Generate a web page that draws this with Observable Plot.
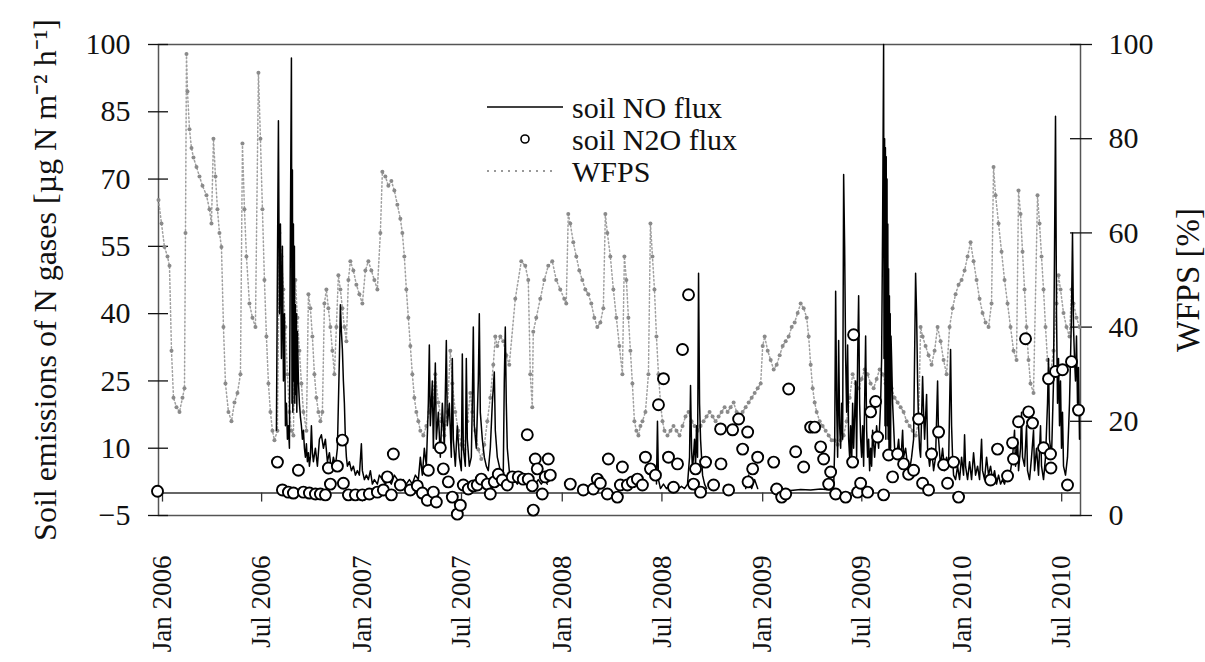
<!DOCTYPE html>
<html>
<head>
<meta charset="utf-8">
<script src="https://cdn.jsdelivr.net/npm/d3@7"></script>
<script src="https://cdn.jsdelivr.net/npm/@observablehq/plot@0.6"></script>
<style>
  body { margin: 0; background: #fff; }
  svg, svg text { font-family: "Liberation Serif", "Times New Roman", serif !important; }
</style>
</head>
<body>
<div id="chart"></div>
<script>
// ---------- DATA (dates as decimal years) ----------
const seriesNames = ["soil NO flux", "soil N2O flux", "WFPS"];
const leftTitle = "Soil emissions of N gases [\u00b5g N m\u207b\u00b2 h\u207b\u00b9]";
const rightTitle = "WFPS [%]";
const leftTicks = [-5, 10, 25, 40, 55, 70, 85, 100];
const rightTicks = [0, 20, 40, 60, 80, 100];
const xTickDates = ["2006-01-01","2006-07-01","2007-01-01","2007-07-01","2008-01-01","2008-07-01","2009-01-01","2009-07-01","2010-01-01","2010-07-01"];

// WFPS [%]
const wfps = [
[2005.980,67],[2005.995,62],[2006.010,57],[2006.025,55],[2006.035,53],[2006.045,35],[2006.055,25],[2006.070,23],[2006.085,22],[2006.100,25],
[2006.110,27],[2006.115,60],[2006.120,98],[2006.125,90],[2006.135,82],[2006.145,78],[2006.155,76],[2006.170,74],[2006.185,72],[2006.200,70],
[2006.220,68],[2006.235,65],[2006.245,62],[2006.255,80],[2006.265,72],[2006.275,65],[2006.285,60],[2006.295,57],[2006.305,40],[2006.315,28],
[2006.330,22],[2006.345,20],[2006.360,24],[2006.375,26],[2006.390,30],[2006.400,79],[2006.410,65],[2006.420,55],[2006.435,45],[2006.450,42],
[2006.465,40],[2006.480,94],[2006.490,80],[2006.500,65],[2006.510,50],[2006.520,38],[2006.530,28],[2006.540,22],[2006.550,18],[2006.560,16],
[2006.575,18],[2006.585,60],[2006.595,55],[2006.605,48],[2006.615,40],[2006.625,30],[2006.635,22],[2006.645,18],[2006.655,17],[2006.665,50],
[2006.675,42],[2006.685,35],[2006.695,28],[2006.705,22],[2006.720,18],[2006.730,47],[2006.740,44],[2006.750,38],[2006.760,30],[2006.770,25],
[2006.780,22],[2006.790,20],[2006.800,22],[2006.810,45],[2006.820,48],[2006.830,44],[2006.840,40],[2006.850,35],[2006.860,30],[2006.870,40],
[2006.880,51],[2006.890,48],[2006.900,44],[2006.910,40],[2006.920,37],[2006.930,50],[2006.940,54],[2006.955,52],[2006.970,49],[2006.985,47],
[2007.000,45],[2007.015,52],[2007.030,54],[2007.045,52],[2007.060,50],[2007.075,48],[2007.090,60],[2007.100,73],[2007.115,72],[2007.130,70],
[2007.145,71],[2007.160,69],[2007.175,66],[2007.190,63],[2007.200,60],[2007.210,55],[2007.220,48],[2007.230,42],[2007.240,36],[2007.250,30],
[2007.260,25],[2007.270,22],[2007.280,20],[2007.290,18],[2007.305,17],[2007.320,19],[2007.335,22],[2007.350,25],[2007.365,30],[2007.380,24],
[2007.395,20],[2007.410,17],[2007.425,22],[2007.440,35],[2007.450,28],[2007.465,22],[2007.480,18],[2007.495,15],[2007.510,14],[2007.525,20],
[2007.540,26],[2007.550,22],[2007.565,18],[2007.580,14],[2007.595,12],[2007.610,15],[2007.625,20],[2007.640,25],[2007.655,32],[2007.665,38],
[2007.675,36],[2007.690,38],[2007.705,37],[2007.720,34],[2007.735,32],[2007.765,46],[2007.795,54],[2007.815,53],[2007.830,50],[2007.840,30],
[2007.850,23],[2007.855,39],[2007.870,42],[2007.890,46],[2007.910,50],[2007.930,53],[2007.950,54],[2007.970,50],[2007.990,48],[2008.010,46],
[2008.020,45],[2008.030,64],[2008.040,62],[2008.055,58],[2008.070,55],[2008.085,52],[2008.100,50],[2008.115,48],[2008.130,47],[2008.145,45],
[2008.160,42],[2008.175,40],[2008.190,41],[2008.205,44],[2008.215,64],[2008.225,60],[2008.240,55],[2008.255,48],[2008.270,42],[2008.285,36],
[2008.300,30],[2008.310,55],[2008.320,50],[2008.330,42],[2008.340,35],[2008.350,28],[2008.360,20],[2008.370,18],[2008.380,17],[2008.390,19],
[2008.400,20],[2008.415,22],[2008.430,30],[2008.440,62],[2008.450,55],[2008.460,48],[2008.470,38],[2008.480,30],[2008.490,24],[2008.500,20],
[2008.510,18],[2008.525,17],[2008.540,18],[2008.555,19],[2008.570,18],[2008.585,17],[2008.600,19],[2008.615,21],[2008.630,22],[2008.645,20],
[2008.660,19],[2008.675,18],[2008.690,19],[2008.705,20],[2008.720,21],[2008.735,22],[2008.750,21],[2008.765,20],[2008.780,21],[2008.795,22],
[2008.810,23],[2008.825,22],[2008.840,23],[2008.855,24],[2008.870,22],[2008.885,21],[2008.900,22],[2008.915,23],[2008.930,24],[2008.945,25],
[2008.960,26],[2008.975,27],[2008.990,28],[2009.000,36],[2009.010,38],[2009.025,35],[2009.040,33],[2009.055,31],[2009.070,32],[2009.085,34],
[2009.100,36],[2009.115,37],[2009.130,38],[2009.145,40],[2009.160,41],[2009.175,43],[2009.190,45],[2009.205,44],[2009.220,42],[2009.230,38],
[2009.240,32],[2009.250,27],[2009.260,24],[2009.270,22],[2009.285,20],[2009.300,19],[2009.315,18],[2009.330,17],[2009.345,16],[2009.360,16],
[2009.375,15],[2009.390,16],[2009.405,17],[2009.420,20],[2009.435,25],[2009.450,30],[2009.465,28],[2009.480,27],[2009.495,29],[2009.510,31],
[2009.525,30],[2009.540,28],[2009.555,27],[2009.570,29],[2009.585,31],[2009.600,30],[2009.615,28],[2009.630,26],[2009.645,27],[2009.660,25],
[2009.675,24],[2009.690,23],[2009.705,22],[2009.720,20],[2009.735,19],[2009.750,18],[2009.765,17],[2009.780,20],[2009.790,40],[2009.800,38],
[2009.815,36],[2009.830,34],[2009.845,32],[2009.860,35],[2009.875,40],[2009.890,37],[2009.905,33],[2009.920,30],[2009.935,40],[2009.950,44],
[2009.965,47],[2009.980,49],[2009.995,50],[2010.010,52],[2010.025,55],[2010.040,58],[2010.055,54],[2010.070,50],[2010.085,46],[2010.100,43],
[2010.115,41],[2010.130,40],[2010.145,45],[2010.155,74],[2010.165,68],[2010.180,62],[2010.195,56],[2010.210,50],[2010.225,45],[2010.240,40],
[2010.255,35],[2010.270,33],[2010.280,69],[2010.290,64],[2010.300,56],[2010.310,48],[2010.320,40],[2010.330,33],[2010.340,28],[2010.355,26],
[2010.375,68],[2010.385,62],[2010.395,55],[2010.405,48],[2010.415,40],[2010.425,33],[2010.440,30],[2010.455,35],[2010.470,45],[2010.480,51],
[2010.490,48],[2010.505,43],[2010.520,40],[2010.535,38],[2010.545,48],[2010.555,45],[2010.570,42],[2010.585,40]
];

// soil NO flux [ug N m-2 h-1]; null = gap in record
const noFlux = [
[2006.570,14],[2006.575,50],[2006.580,83],[2006.585,40],[2006.590,60],[2006.595,30],[2006.600,55],[2006.605,25],[2006.610,40],[2006.615,15],
[2006.620,20],[2006.625,12],[2006.630,15],[2006.635,10],[2006.640,60],[2006.645,97],[2006.648,20],[2006.650,72],[2006.652,18],[2006.655,60],
[2006.657,25],[2006.660,55],[2006.662,20],[2006.665,42],[2006.667,22],[2006.670,40],[2006.672,18],[2006.675,36],[2006.680,25],[2006.685,20],
[2006.690,17],[2006.695,15],[2006.700,12],[2006.705,14],[2006.710,10],[2006.715,8],
[2006.720,11],[2006.725,7],[2006.730,9],[2006.735,6],[2006.740,8],[2006.745,15],[2006.750,9],[2006.755,7],[2006.765,10],[2006.775,6],
[2006.785,12],[2006.795,13],[2006.805,10],[2006.815,12],[2006.825,7],[2006.835,9],[2006.845,5],[2006.855,8],[2006.865,6],[2006.875,10],
[2006.885,30],[2006.890,42],[2006.895,36],[2006.900,32],[2006.905,25],[2006.910,20],[2006.915,12],[2006.920,8],[2006.925,6],[2006.935,7],
[2006.945,5],[2006.955,6],[2006.965,4],[2006.975,5],[2006.985,4],[2006.995,11],[2007.000,5],[2007.010,3],[2007.020,4],[2007.030,3],
[2007.040,5],[2007.050,2],[2007.060,3],[2007.075,2],[2007.085,4],[2007.100,3],[2007.115,2],[2007.130,3],[2007.145,2],[2007.160,4],
[2007.175,3],[2007.190,2],[2007.205,3],[2007.220,2],[2007.235,3],[2007.250,2],[2007.265,4],[2007.280,3],[2007.290,8],[2007.300,4],
[2007.310,10],[2007.320,6],[2007.330,20],[2007.335,33],[2007.340,15],[2007.350,25],[2007.355,10],[2007.365,29],[2007.370,12],[2007.380,18],
[2007.390,8],[2007.400,20],[2007.410,10],[2007.420,34],[2007.425,15],[2007.435,20],[2007.445,8],[2007.450,30],[2007.455,12],[2007.465,6],
[2007.475,15],[2007.485,8],[2007.495,5],[2007.500,31],[2007.505,10],[2007.515,6],[2007.520,30],[2007.525,12],[2007.535,6],[2007.545,8],
[2007.550,20],[2007.555,37],[2007.560,15],[2007.570,10],[2007.580,25],[2007.585,40],[2007.590,18],[2007.600,12],[2007.610,8],[2007.620,6],
[2007.630,5],[2007.640,10],[2007.650,20],[2007.660,27],[2007.665,14],[2007.675,8],[2007.685,6],[2007.695,4],[2007.705,5],[2007.710,25],
[2007.715,37],[2007.720,20],[2007.725,10],[2007.735,5],[2007.745,4],[2007.760,3],[2007.775,2],[2007.790,3],[2007.805,2],[2007.820,4],
[2007.835,2],[2007.850,3],[2007.865,2],[2007.880,3],[2007.895,2],[2007.910,3],[2007.925,2],[2007.930,null],
[2008.470,2],[2008.475,16],[2008.480,3],[2008.490,1],[2008.505,2],[2008.520,1],[2008.535,1.5],[2008.550,1],[2008.565,2],[2008.580,1],
[2008.595,1.5],[2008.610,1],[2008.625,2],[2008.635,8],[2008.640,24],[2008.645,10],[2008.650,5],[2008.660,12],[2008.665,6],[2008.670,15],
[2008.675,8],[2008.680,49],[2008.685,20],[2008.690,12],[2008.695,8],[2008.700,4],[2008.710,2],[2008.720,1],[2008.725,null],
[2008.915,1],[2008.930,4],[2008.945,1],[2008.960,3],[2008.975,1],[2008.980,null],
[2009.040,0.7],[2009.090,0.8],[2009.140,0.6],[2009.190,0.8],[2009.240,0.7],[2009.290,0.9],[2009.340,0.7],[2009.355,1],
[2009.360,10],[2009.365,45],[2009.370,20],[2009.375,8],[2009.380,34],[2009.385,15],[2009.390,10],[2009.395,20],[2009.400,12],[2009.405,71],
[2009.410,55],[2009.415,30],[2009.420,18],[2009.425,33],[2009.430,12],[2009.435,8],[2009.440,15],[2009.445,6],[2009.450,20],[2009.455,10],
[2009.465,25],[2009.470,8],[2009.475,30],[2009.480,44],[2009.485,20],[2009.490,12],[2009.495,8],[2009.500,15],[2009.505,6],[2009.510,20],
[2009.515,35],[2009.520,14],[2009.525,8],[2009.530,12],[2009.535,5],[2009.540,10],[2009.545,6],[2009.550,14],[2009.560,8],[2009.570,15],
[2009.580,10],[2009.590,20],[2009.595,30],[2009.600,60],[2009.605,100],[2009.607,30],[2009.610,79],[2009.612,15],[2009.614,77],[2009.616,12],
[2009.618,75],[2009.620,20],[2009.622,70],[2009.624,15],[2009.626,60],[2009.628,12],[2009.630,50],[2009.632,10],[2009.634,44],[2009.636,8],
[2009.638,40],[2009.640,10],[2009.642,35],[2009.645,30],[2009.650,20],[2009.655,15],[2009.660,10],[2009.670,8],[2009.680,12],[2009.690,6],[2009.700,14],
[2009.705,8],[2009.715,10],[2009.725,6],[2009.735,5],[2009.745,8],[2009.755,12],[2009.765,49],[2009.770,40],[2009.775,25],[2009.780,15],
[2009.785,10],[2009.790,8],[2009.800,26],[2009.805,18],[2009.810,12],[2009.820,22],[2009.825,10],[2009.835,6],[2009.845,10],[2009.855,5],
[2009.865,8],[2009.875,25],[2009.880,12],[2009.890,6],[2009.900,10],[2009.910,5],[2009.920,8],[2009.930,6],[2009.940,32],[2009.945,15],
[2009.950,8],[2009.955,4],[2009.965,3],[2009.975,6],[2009.985,3],[2009.995,8],[2010.005,4],[2010.010,13],[2010.015,6],[2010.025,3],
[2010.035,7],[2010.045,3],[2010.055,9],[2010.065,4],[2010.075,6],[2010.085,3],[2010.095,12],[2010.100,5],[2010.110,3],[2010.120,8],
[2010.130,4],[2010.140,6],[2010.150,3],[2010.160,5],[2010.170,2],[2010.180,4],[2010.190,2],[2010.200,3],[2010.210,2],[2010.220,4],
[2010.230,3],[2010.240,5],[2010.250,8],[2010.260,14],[2010.265,6],[2010.275,12],[2010.280,5],[2010.290,10],[2010.295,18],[2010.300,8],
[2010.310,6],[2010.320,15],[2010.325,5],[2010.335,3],[2010.345,8],[2010.355,14],[2010.360,5],[2010.370,10],[2010.380,4],[2010.390,15],
[2010.395,6],[2010.405,3],[2010.415,8],[2010.425,20],[2010.430,30],[2010.435,12],[2010.445,8],[2010.455,25],[2010.460,54],[2010.465,84],
[2010.470,40],[2010.475,20],[2010.480,30],[2010.485,15],[2010.490,25],[2010.495,10],[2010.500,18],[2010.505,6],[2010.515,4],[2010.525,8],
[2010.535,20],[2010.540,30],[2010.545,40],[2010.550,58],[2010.555,37],[2010.560,30],[2010.565,25],[2010.570,35],[2010.575,20],[2010.580,28],
[2010.585,12]
];

// soil N2O flux [ug N m-2 h-1]
const n2oFlux = [
[2005.975,0.4],[2006.575,6.9],[2006.600,0.7],[2006.630,0.2],[2006.655,0],[2006.680,5.1],[2006.705,0.2],[2006.735,0],[2006.765,-0.2],[2006.790,-0.2],
[2006.815,-0.4],[2006.830,5.6],[2006.840,2.0],[2006.875,6.0],[2006.900,11.8],[2006.905,2.2],[2006.930,-0.4],[2006.965,-0.4],[2007.000,-0.4],[2007.035,-0.2],
[2007.075,0.2],[2007.105,0.7],[2007.125,3.6],[2007.145,-0.4],[2007.155,8.7],[2007.190,1.8],[2007.240,0.7],[2007.275,1.6],[2007.300,0],[2007.325,-1.6],
[2007.330,5.1],[2007.355,0.2],[2007.370,-2.0],[2007.390,10.1],[2007.405,5.4],[2007.430,2.5],[2007.450,-0.9],[2007.475,-4.7],[2007.490,-2.7],[2007.505,1.8],
[2007.530,0.9],[2007.555,1.6],[2007.575,1.8],[2007.595,3.1],[2007.625,2.0],[2007.640,-0.2],[2007.660,2.5],[2007.680,4.2],[2007.700,2.9],[2007.725,1.8],
[2007.750,3.6],[2007.780,3.6],[2007.805,3.1],[2007.825,13.0],[2007.830,3.1],[2007.850,1.6],[2007.855,-3.8],[2007.865,7.6],[2007.875,5.4],[2007.900,-0.2],
[2007.915,3.6],[2007.930,7.6],[2007.940,4.0],[2008.040,2.0],[2008.105,0.7],[2008.155,0.9],[2008.175,3.1],[2008.190,2.2],[2008.225,-0.2],[2008.230,7.6],
[2008.275,-0.9],[2008.290,1.8],[2008.300,5.8],[2008.325,1.8],[2008.350,2.5],[2008.375,3.1],[2008.400,1.8],[2008.415,8.0],[2008.440,5.4],[2008.465,4.0],
[2008.480,19.7],[2008.505,25.5],[2008.530,8.0],[2008.555,1.3],[2008.575,6.5],[2008.600,32.0],[2008.630,44.2],[2008.655,2.0],[2008.665,5.4],[2008.690,0.2],
[2008.715,6.9],[2008.755,1.8],[2008.790,14.3],[2008.792,6.5],[2008.830,0.7],[2008.850,14.1],[2008.880,16.5],[2008.900,9.8],[2008.925,13.6],[2008.927,2.5],
[2008.950,5.4],[2008.975,8.0],[2009.055,6.9],[2009.070,0.9],[2009.095,-0.9],[2009.115,-0.2],[2009.130,23.2],[2009.165,9.2],[2009.205,5.8],[2009.240,14.7],
[2009.260,14.7],[2009.290,10.3],[2009.305,7.6],[2009.330,2.0],[2009.340,4.7],[2009.365,-0.2],[2009.415,-0.9],[2009.450,6.9],[2009.455,35.3],[2009.475,0.2],
[2009.490,2.2],[2009.525,0.2],[2009.540,18.1],[2009.565,20.4],[2009.575,12.5],[2009.605,-0.4],[2009.630,8.5],[2009.650,3.6],[2009.675,8.7],[2009.705,6.5],
[2009.730,4.2],[2009.755,5.1],[2009.780,16.5],[2009.800,2.2],[2009.830,0.7],[2009.845,8.7],[2009.880,13.6],[2009.905,6.3],[2009.925,2.2],[2009.955,6.9],
[2009.980,-0.9],[2010.140,2.9],[2010.175,9.8],[2010.225,3.8],[2010.250,11.2],[2010.255,7.6],[2010.280,15.9],[2010.315,34.4],[2010.330,18.1],[2010.350,15.6],
[2010.405,10.1],[2010.430,25.5],[2010.440,8.7],[2010.442,5.6],[2010.465,27.1],[2010.500,27.5],[2010.525,1.8],[2010.545,29.3],[2010.580,18.5]
];

// ---------- HELPERS ----------
function yearToDate(y) {
  const Y = Math.floor(y);
  const a = Date.UTC(Y, 0, 1), b = Date.UTC(Y + 1, 0, 1);
  return new Date(a + (y - Y) * (b - a));
}
const W = 1205, H = 662, ML = 158, MR = 125, MT = 44, MB = 147;
const yDomain = [-5, 100];
const xDomain = [yearToDate(2005.98), yearToDate(2010.59)];
const wToY = w => yDomain[0] + w * (yDomain[1] - yDomain[0]) / 100;
const FONT = "Liberation Serif";
const xTicks = xTickDates.map(s => new Date(s + "T00:00:00Z"));
const fmt = d3.utcFormat("%b %Y");

const plot = Plot.plot({
  width: W, height: H,
  marginLeft: ML, marginRight: MR, marginTop: MT, marginBottom: MB,
  style: { fontFamily: FONT, fontSize: "28px", color: "#111", background: "#fff", overflow: "visible" },
  x: { type: "utc", domain: xDomain },
  y: { domain: yDomain },
  marks: [
    Plot.frame({ stroke: "#555", strokeWidth: 1.5 }),
    Plot.ruleY([0], { stroke: "#333", strokeWidth: 1.5 }),
    Plot.ruleX(xTicks, { x: d => d, y1: 0, y2: 0, insetBottom: -9, stroke: "#333", strokeWidth: 1.3 }),
    Plot.ruleY(leftTicks, { y: d => d, x1: xDomain[0], x2: xDomain[0], insetLeft: -10, insetRight: -10, stroke: "#111", strokeWidth: 1.3 }),
    Plot.ruleY(rightTicks, { y: wToY, x1: xDomain[1], x2: xDomain[1], insetLeft: -10, insetRight: -12, stroke: "#111", strokeWidth: 1.3 }),
    Plot.line(wfps, { x: d => yearToDate(d[0]), y: d => wToY(d[1]), stroke: "#a0a0a0", strokeWidth: 1.5, strokeDasharray: "1.5 2.5" }),
    Plot.dot(wfps, { x: d => yearToDate(d[0]), y: d => wToY(d[1]), r: 2, fill: "#8a8a8a", stroke: null }),
    Plot.line(noFlux, { x: d => yearToDate(d[0]), y: d => d[1], stroke: "#000", strokeWidth: 1.5 }),
    Plot.dot(n2oFlux, { x: d => yearToDate(d[0]), y: d => d[1], r: 5.5, stroke: "#000", strokeWidth: 1.9, fill: "#fff" }),
    Plot.axisY(leftTicks, { anchor: "left", tickSize: 0, tickPadding: 28, fontSize: 30, fontFamily: FONT, label: null }),
    Plot.axisY(rightTicks, { anchor: "right", y: wToY, tickSize: 0, tickPadding: 28, tickFormat: d => String(d), fontSize: 30, fontFamily: FONT, label: null }),
    Plot.axisX(xTicks, { anchor: "bottom", tickSize: 0, tickPadding: 40, tickRotate: -90, tickFormat: fmt, fontSize: 27, fontFamily: FONT, label: null }),
    Plot.text([leftTitle], { frameAnchor: "left", dx: -113, rotate: -90, textAnchor: "middle", fontSize: 32, fontFamily: FONT, fill: "#111" }),
    Plot.text([rightTitle], { frameAnchor: "right", dx: 108, rotate: -90, textAnchor: "middle", fontSize: 33, fontFamily: FONT, fill: "#111" })
  ]
});

// ---------- LEGEND (inside plot) ----------
const svg = d3.select(plot);
const lg = svg.append("g").attr("font-family", FONT).attr("font-size", 30).attr("fill", "#111").attr("text-anchor", "start");
const lx = ML + 329, ly = MT + 63, step = 32;
lg.append("line").attr("x1", lx).attr("x2", lx + 76).attr("y1", ly).attr("y2", ly).attr("stroke", "#000").attr("stroke-width", 1.6);
lg.append("circle").attr("cx", lx + 38).attr("cy", ly + step).attr("r", 4).attr("fill", "#fff").attr("stroke", "#000").attr("stroke-width", 1.6);
lg.append("line").attr("x1", lx).attr("x2", lx + 70).attr("y1", ly + 2 * step).attr("y2", ly + 2 * step).attr("stroke", "#999").attr("stroke-width", 2).attr("stroke-dasharray", "2 5");
seriesNames.forEach((name, i) => {
  lg.append("text").attr("x", lx + 85).attr("y", ly + i * step).attr("dy", "0.35em").attr("text-anchor", "start").text(name);
});

document.getElementById("chart").appendChild(plot);
</script>
</body>
</html>
